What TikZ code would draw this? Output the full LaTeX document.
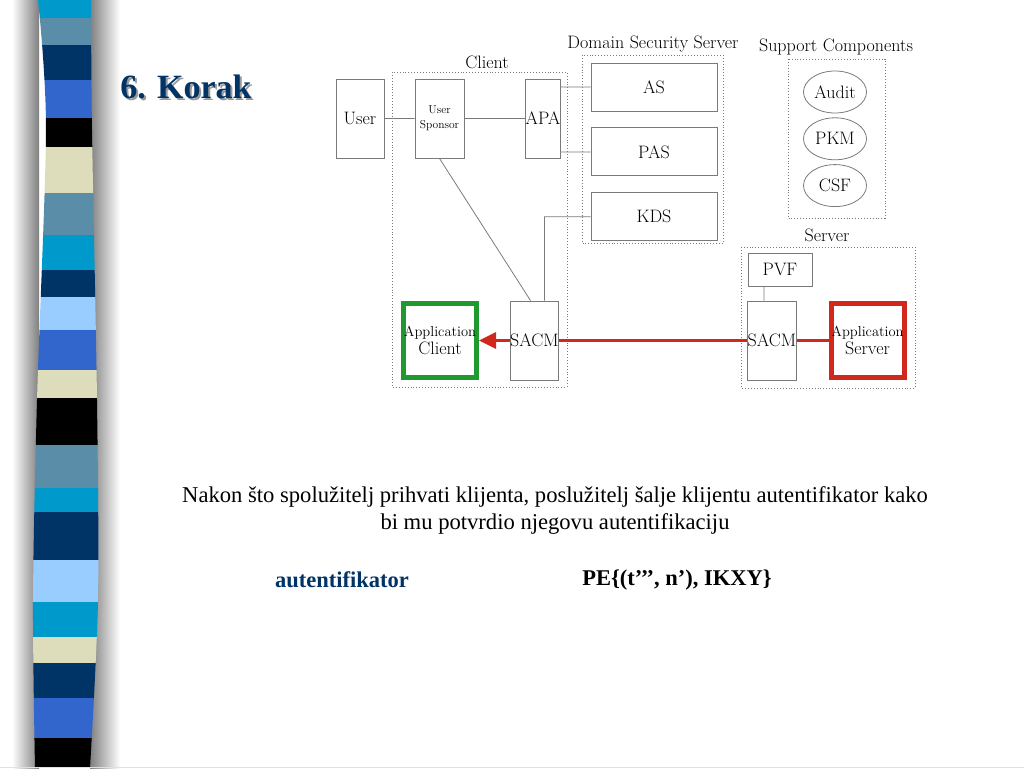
\documentclass[tikz,border=0pt]{standalone}
\usepackage{fontspec}
\newfontfamily\tnrfont{Liberation Serif}
\usepackage{tikz}
\usetikzlibrary{positioning,arrows.meta,shapes.geometric}

\definecolor{navy}{HTML}{003366}
\definecolor{stripcyan}{HTML}{0099CC}
\definecolor{stripsteel}{HTML}{5A8EA8}
\definecolor{stripblue}{HTML}{3366CC}
\definecolor{stripbeige}{HTML}{DDDDBB}
\definecolor{striplight}{HTML}{99CCFF}
\definecolor{boxgray}{HTML}{7A7A7A}
\definecolor{appred}{HTML}{D0281C}
\definecolor{appgreen}{HTML}{1E9A2E}

\begin{document}
\begin{tikzpicture}[x=1pt,y=-1pt,
  box/.style={draw=boxgray,fill=white,line width=0.9pt,inner sep=0pt,minimum width=#1,
    font=\fontsize{18}{20}\selectfont},
  grp/.style={draw=boxgray,dotted,line width=0.9pt},
  lbl/.style={font=\fontsize{18}{20}\selectfont,inner sep=3pt},
  comp/.style={draw=boxgray,ellipse,line width=0.8pt,minimum width=63,minimum height=42,
    inner sep=0pt,font=\fontsize{18}{20}\selectfont},
  app/.style={draw=#1,line width=5pt,fill=white,minimum width=73,minimum height=74,
    inner sep=0pt,align=center,font=\fontsize{14.5}{18}\selectfont},
  wire/.style={draw=boxgray,line width=0.8pt},
  redline/.style={draw=appred,line width=3pt}]

\useasboundingbox (0,0) rectangle (1024,768);

% side strip
\shade[left color=white,right color=black!50] (12,0) rectangle (39,768);
\shade[left color=black!50,right color=white] (90,0) rectangle (120,768);
\begin{scope}
\clip plot[smooth] coordinates {(38,0) (46,130) (37,400) (33,600) (35,768)}
  -- plot[smooth] coordinates {(90,768) (98,600) (97,400) (92,130) (91,0)} -- cycle;
\foreach \ya/\yb/\c in {0/18/stripcyan, 18/45/stripsteel, 45/80/navy, 80/118/stripblue,
    118/147/black, 147/193/stripbeige, 193/235/stripsteel, 235/270/stripcyan,
    270/297/navy, 297/330/striplight, 330/370/stripblue, 370/398/stripbeige,
    398/445/black, 445/488/stripsteel, 488/512/stripcyan, 512/560/navy,
    560/602/striplight, 602/637/stripcyan, 637/663/stripbeige, 663/698/navy,
    698/738/stripblue, 738/768/black}
  \fill[\c] (20,\ya) rectangle (110,\yb);
\end{scope}
\draw[black!12,line width=1pt] (0,767.5) -- (1024,767.5);

% title
\node[font=\tnrfont\bfseries\fontsize{34}{40}\selectfont,text=black!40] at (188,89) {6. Korak};
\node[font=\tnrfont\bfseries\fontsize{34}{40}\selectfont,text=navy] (title) at (186,87) {6. Korak};

% groups
\draw[grp] (392,72) rectangle (567,387);
\draw[grp] (582,55) rectangle (723,243);
\draw[grp] (788,59) rectangle (885,218);
\draw[grp] (741,247) rectangle (915,388);
\node[lbl] (client) at (487,62) {Client};
\node[lbl] (dss) at (653,44) {Domain Security Server};
\node[lbl] (supp) at (836,47) {Support Components};
\node[lbl] (server) at (827,235) {Server};

% client side
\node[box=48,minimum height=79] (user) at (360,118.5) {User};
\node[box=49,minimum height=79,align=center,font=\fontsize{11.5}{15}\selectfont] (sponsor) at (439.5,118.5) {User\\Sponsor};
\node[box=32,minimum height=79,fill=none] (apa) at (543,118.5) {APA};
\node[box=47,minimum height=79] (sacmc) at (534.5,340.5) {SACM};
\node[app=appgreen] (appc) at (440,340.5) {Application\\{\fontsize{18}{18}\selectfont Client}};

% domain security server
\node[box=126,minimum height=48] (as) at (654,87) {AS};
\node[box=126,minimum height=48,below=16pt of as] (pas) {PAS};
\node[box=126,minimum height=48,below=16pt of pas] (kds) {KDS};

% support components
\node[comp] (audit) at (835,92) {Audit};
\node[comp,below=4pt of audit] (pkm) {PKM};
\node[comp,below=4pt of pkm] (csf) {CSF};

% server side
\node[box=64,minimum height=33] (pvf) at (780,269.5) {PVF};
\node[box=48,minimum height=79] (sacms) at (772,340.5) {SACM};
\node[app=appred] (apps) at (867.5,340.5) {Application\\{\fontsize{18}{18}\selectfont Server}};

% wires
\path[wire]
  (user) -- (sponsor)
  (sponsor) -- (apa)
  (as.west -| apa.east) -- (as.west)
  (pas.west -| apa.east) -- (pas.west)
  (sponsor.south) -- ([xshift=-4pt]sacmc.north)
  (kds.west) -| ([xshift=10pt]sacmc.north)
  ([xshift=-8pt]sacms.north) -- ([xshift=-8pt]sacms.north |- pvf.south);

\path[redline]
  (apps.west) -- (sacms.east)
  (sacms.west) -- (sacmc.east);
\draw[redline,-{Triangle[length=17pt,width=16pt]}] (sacmc.west) -- (appc.east);

% text
\node[font=\tnrfont\fontsize{22.6}{27}\selectfont,align=center] (txt) at (555,510.5)
  {Nakon što spolužitelj prihvati klijenta, poslužitelj šalje klijentu autentifikator kako\\
   bi mu potvrdio njegovu autentifikaciju};
\node[font=\tnrfont\bfseries\fontsize{22.5}{26}\selectfont,text=navy] (auth) at (342,580) {autentifikator};
\node[font=\tnrfont\bfseries\fontsize{22.5}{26}\selectfont] (pe) at (677,580) {PE\{(t’’’, n’), IKXY\}};
\end{tikzpicture}
\end{document}
